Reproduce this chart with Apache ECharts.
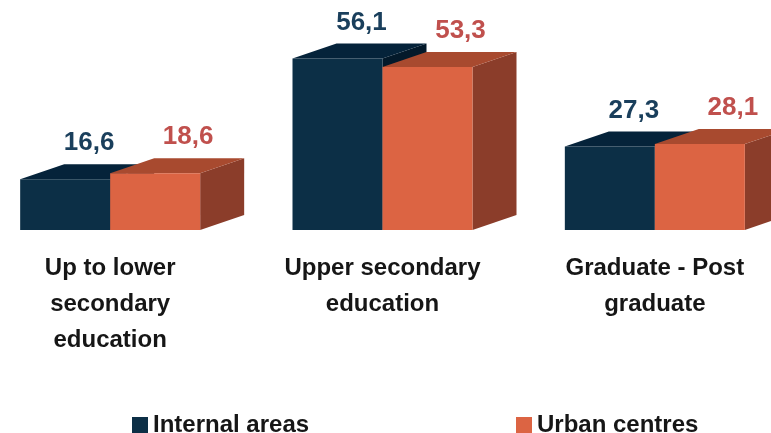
<!DOCTYPE html>
<html>
<head>
<meta charset="utf-8">
<script src="https://cdn.jsdelivr.net/npm/echarts@6.0.0/dist/echarts.min.js"></script>
<style>
  html, body { margin:0; padding:0; background:#fff; }
  #chart { width:771px; height:433px; }
</style>
</head>
<body>
<div id="chart"></div>
<script>
const categories = ['Up to lower\nsecondary\neducation', 'Upper secondary\neducation', 'Graduate - Post\ngraduate'];
const internalAreas = [16.6, 56.1, 27.3];
const urbanCentres = [18.6, 53.3, 28.1];

const chart = echarts.init(document.getElementById('chart'));

// fake 3D box: front, top and side faces
const BAR_W = 90, DX = 44, DY = -15;

function box3d(side, colors, labelColor, labelShift) {
  return (params, api) => {
    const i = api.value(0), v = api.value(1);
    const top = api.coord([i, v]);
    const base = api.coord([i, 0]);
    const x0 = side < 0 ? top[0] - BAR_W : top[0];
    const x1 = x0 + BAR_W;
    const yT = top[1], yB = base[1];
    return {
      type: 'group',
      children: [
        { type: 'polygon', shape: { points: [[x1, yT], [x1 + DX, yT + DY], [x1 + DX, yB + DY], [x1, yB]] },
          style: { fill: colors.side } },
        { type: 'polygon', shape: { points: [[x0, yT], [x1, yT], [x1 + DX, yT + DY], [x0 + DX, yT + DY]] },
          style: { fill: colors.top } },
        { type: 'rect', shape: { x: x0, y: yT, width: BAR_W, height: yB - yT },
          style: { fill: colors.front } },
        { type: 'text', x: (x0 + x1) / 2 + labelShift, y: yT + DY - 21,
          style: { text: String(v).replace('.', ','), fill: labelColor, align: 'center', verticalAlign: 'middle',
            font: 'bold 26px "Liberation Sans", Arial, sans-serif' } }
      ]
    };
  };
}

const legendText = { fontSize: 24, fontWeight: 'bold', color: '#161616', fontFamily: 'Liberation Sans' };

chart.setOption({
  animation: false,
  grid: { left: -26, right: -20, top: 16, bottom: 203, outerBoundsMode: 'none', containLabel: false },
  legend: [
    { data: ['Internal areas'], left: 127, top: 408, icon: 'rect', itemWidth: 16, itemHeight: 16,
      textStyle: legendText },
    { data: ['Urban centres'], left: 511, top: 408, icon: 'rect', itemWidth: 16, itemHeight: 16,
      textStyle: legendText }
  ],
  xAxis: {
    type: 'category', data: categories,
    axisLine: { show: false }, axisTick: { show: false },
    axisLabel: { interval: 0, margin: 20, fontSize: 24, fontWeight: 'bold', lineHeight: 36,
      color: '#161616', fontFamily: 'Liberation Sans' }
  },
  yAxis: { type: 'value', min: 0, max: 70, show: false, splitLine: { show: false } },
  series: [
    { name: 'Internal areas', type: 'custom', itemStyle: { color: '#0c2f46' },
      renderItem: box3d(-1, { front: '#0c2f46', top: '#05233a', side: '#03192a' }, '#1a3f5c', 24),
      data: internalAreas.map((v, i) => [i, v]), encode: { x: 0, y: 1 } },
    { name: 'Urban centres', type: 'custom', itemStyle: { color: '#dc6443' },
      renderItem: box3d(1, { front: '#dc6443', top: '#a84a2f', side: '#8b3d2a' }, '#c0504d', 33),
      data: urbanCentres.map((v, i) => [i, v]), encode: { x: 0, y: 1 } }
  ]
});
</script>
</body>
</html>
